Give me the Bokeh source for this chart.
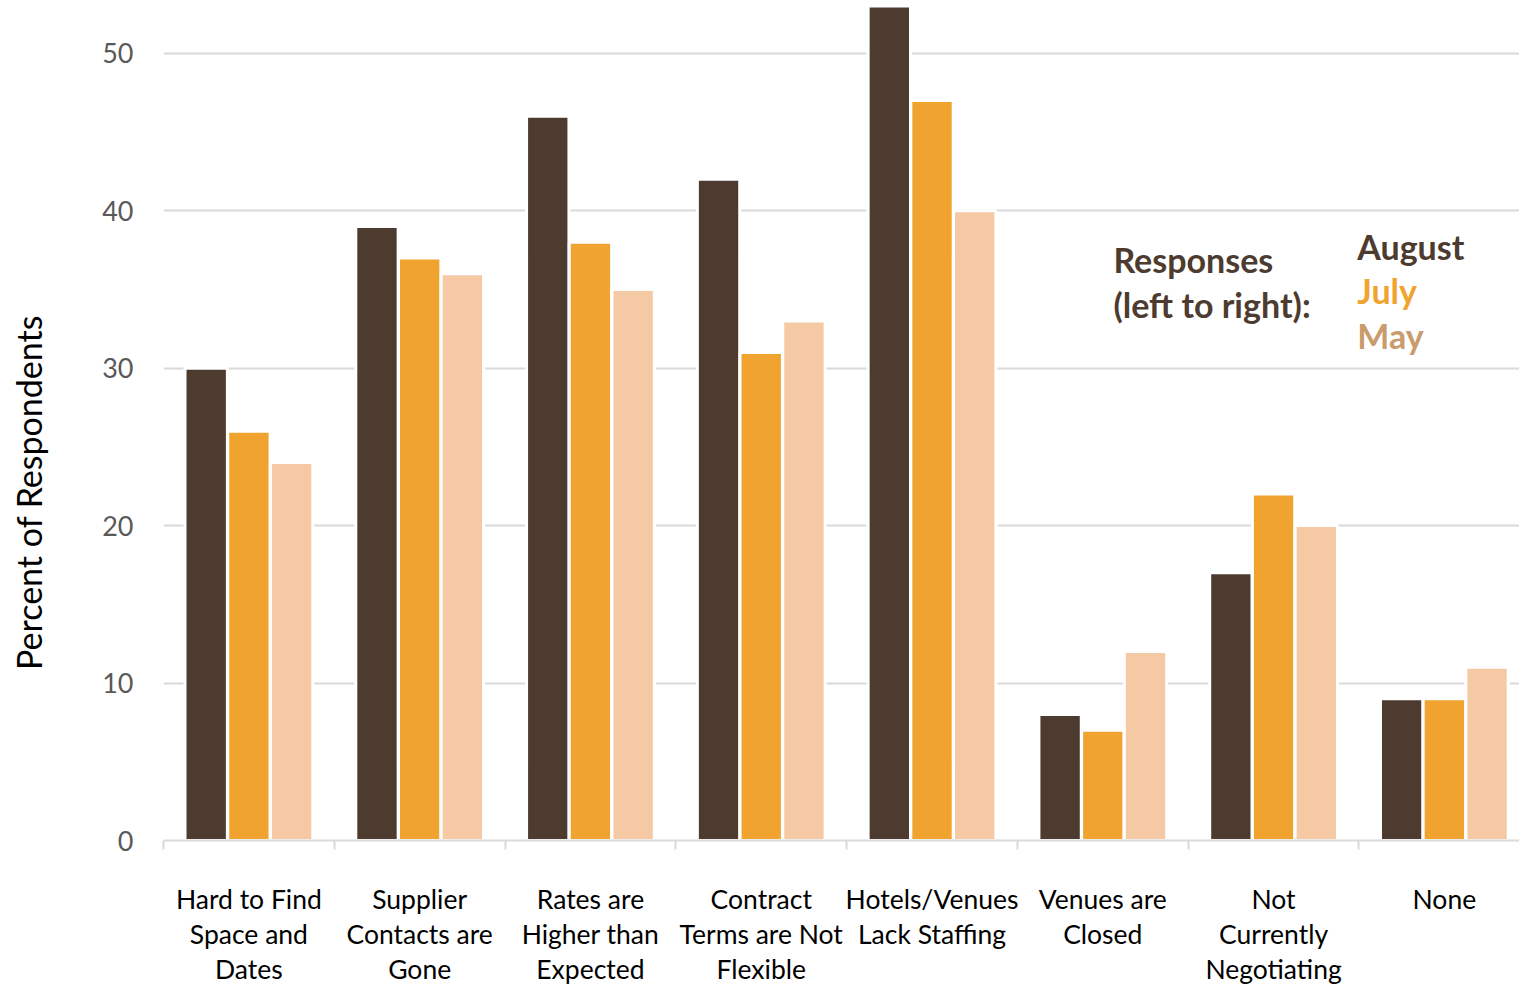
import math
from bokeh.plotting import figure
from bokeh.layouts import row
from bokeh.models import Range1d, FixedTicker, Label
from bokeh.core.properties import value
from bokeh.embed import file_html
from bokeh.resources import INLINE

# Survey data: percent of respondents citing each issue
categories = [
    "Hard to Find\nSpace and\nDates",
    "Supplier\nContacts are\nGone",
    "Rates are\nHigher than\nExpected",
    "Contract\nTerms are Not\nFlexible",
    "Hotels/Venues\nLack Staffing",
    "Venues are\nClosed",
    "Not\nCurrently\nNegotiating",
    "None",
]
august = [30, 39, 46, 42, 53, 8, 17, 9]
july = [26, 37, 38, 31, 47, 7, 22, 9]
may = [24, 36, 35, 33, 40, 12, 20, 11]
y_ticks = [0, 10, 20, 30, 40, 50]
y_title = "Percent of Respondents"

FONT = "Lato"
C_AUG = "#4D3B30"
C_JUL = "#F0A32F"
C_MAY = "#F5C9A4"
C_MAY_TXT = "#C99B6D"
GRID = "#D9D9D9"

H = 987
TITLE_W = 60

n = len(categories)
centers = [i + 0.5 for i in range(n)]

# narrow strip on the left carrying the rotated y-axis title
t = figure(width=TITLE_W, height=H, x_range=Range1d(0, TITLE_W), y_range=Range1d(0, H),
           x_axis_type=None, y_axis_type=None, output_backend="svg",
           toolbar_location=None, min_border=0)
t.outline_line_color = None
t.grid.visible = False
t.text(x=[28], y=[409], text=[y_title], angle=math.pi / 2,
       text_font=value(FONT), text_font_size="34px", text_color="black",
       text_align="center", text_baseline="middle")

# main chart; the last group runs slightly past the right edge of the canvas
p = figure(
    width=1519 - TITLE_W, height=H,
    x_range=Range1d(0, n - 0.06), y_range=Range1d(0, 53.35),
    output_backend="svg", toolbar_location=None,
    min_border_left=163 - TITLE_W, min_border_right=0,
    min_border_top=0, min_border_bottom=147,
)
p.outline_line_color = None

# grouped bars: August, July, May (left to right)
step = 0.25
bw = 0.248
for off, vals, col in [(-step, august, C_AUG), (0.0, july, C_JUL), (step, may, C_MAY)]:
    p.vbar(x=[c + off for c in centers], top=vals, width=bw, bottom=0,
           fill_color=col, line_color="white", line_width=3)

# y axis
p.yaxis.ticker = FixedTicker(ticks=y_ticks)
p.yaxis.axis_line_color = None
p.yaxis.major_tick_line_color = None
p.yaxis.minor_tick_line_color = None
p.yaxis.major_label_text_font = FONT
p.yaxis.major_label_text_font_size = "27px"
p.yaxis.major_label_text_color = "#595959"
p.yaxis.major_label_standoff = 24
p.ygrid.grid_line_color = GRID
p.ygrid.grid_line_width = 2
p.ygrid.ticker = FixedTicker(ticks=y_ticks)
p.xgrid.grid_line_color = None

# x axis: labels at group centers, tick marks at group boundaries
p.xaxis.ticker = FixedTicker(ticks=centers, minor_ticks=list(range(n + 1)))
p.xaxis.major_label_overrides = {c: lab for c, lab in zip(centers, categories)}
p.xaxis.axis_line_color = GRID
p.xaxis.axis_line_width = 2
p.xaxis.major_tick_line_color = None
p.xaxis.minor_tick_line_color = GRID
p.xaxis.minor_tick_line_width = 2
p.xaxis.minor_tick_out = 9
p.xaxis.minor_tick_in = 0
p.xaxis.major_tick_out = 0
p.xaxis.major_label_text_font = FONT
p.xaxis.major_label_text_font_size = "26.5px"
p.xaxis.major_label_text_color = "black"
p.xaxis.major_label_text_line_height = 1.1
p.xaxis.major_label_standoff = 33

# legend text
legend_specs = [
    (5.562, 36.88, "Responses", C_AUG),
    (5.562, 34.03, "(left to right):", C_AUG),
    (6.99, 37.75, "August", C_AUG),
    (6.99, 34.9, "July", C_JUL),
    (6.99, 32.05, "May", C_MAY_TXT),
]
for x, y, txt, col in legend_specs:
    p.add_layout(Label(x=x, y=y, text=txt, text_color=col, text_font=FONT,
                       text_font_size="34px", text_font_style="bold",
                       text_baseline="middle", text_align="left"))

layout = row(t, p, spacing=0)
open("out.html", "w").write(file_html(layout, INLINE))
